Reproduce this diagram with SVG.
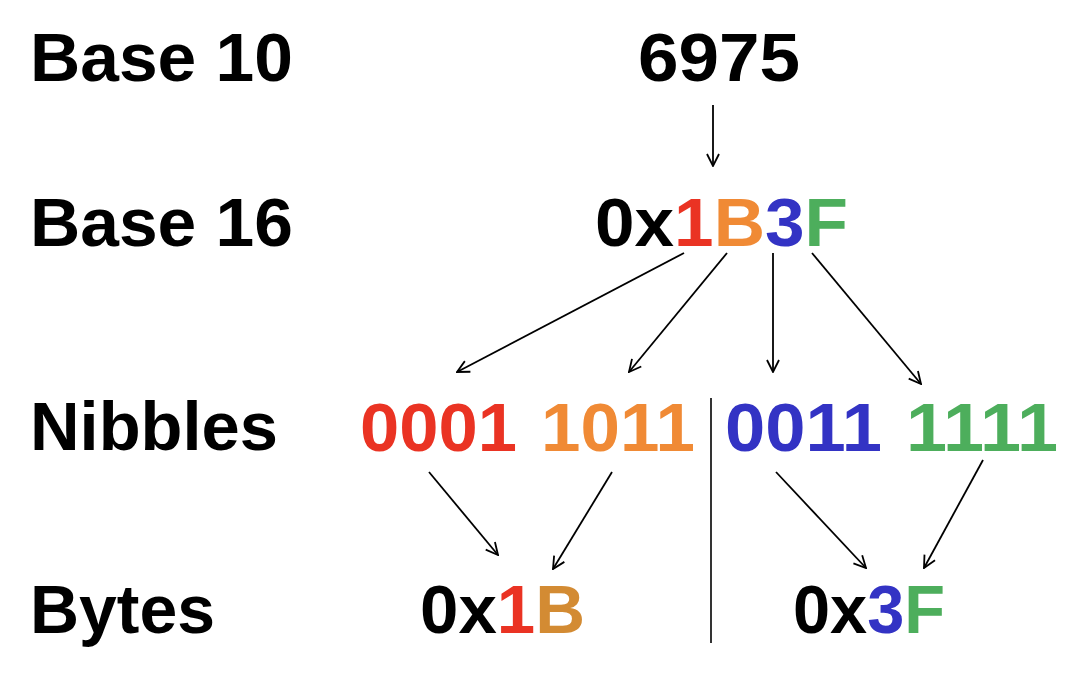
<svg xmlns="http://www.w3.org/2000/svg" width="1080" height="678" viewBox="0 0 1080 678">
<defs>
<style>
text{font-family:"Liberation Sans",Arial,sans-serif;font-weight:bold;font-size:69px;fill:#000}
.r{fill:#EA3323}.o{fill:#F08A35}.b{fill:#3333C4}.g{fill:#4DAE5C}.gold{fill:#D38B33}
.c{stroke:#000;stroke-width:1.8;fill:none;marker-end:url(#ah)}
</style>
<marker id="ah" viewBox="0 0 14 14" refX="13" refY="7" markerWidth="14" markerHeight="14" markerUnits="userSpaceOnUse" orient="auto">
<path d="M1,1 L13,7 L1,13" fill="none" stroke="#000" stroke-width="1.8"/>
</marker>
</defs>
<rect width="1080" height="678" fill="#fff"/>
<g id="labels">
<text x="30" y="81" textLength="263" lengthAdjust="spacingAndGlyphs">Base 10</text>
<text x="30" y="246" textLength="263" lengthAdjust="spacingAndGlyphs">Base 16</text>
<text x="30" y="450" textLength="248" lengthAdjust="spacingAndGlyphs">Nibbles</text>
<text x="30" y="633" textLength="185" lengthAdjust="spacingAndGlyphs">Bytes</text>
</g>
<g id="base10"><text x="638" y="81" textLength="162" lengthAdjust="spacingAndGlyphs">6975</text></g>
<g id="base16"><text x="595" y="246" textLength="253" lengthAdjust="spacingAndGlyphs">0x<tspan class="r">1</tspan><tspan class="o">B</tspan><tspan class="b">3</tspan><tspan class="g">F</tspan></text></g>
<g id="nib1"><text class="r" x="360" y="451" textLength="157" lengthAdjust="spacingAndGlyphs">0001</text></g>
<g id="nib2"><text class="o" x="541" y="451" textLength="154" lengthAdjust="spacingAndGlyphs">1011</text></g>
<g id="nib3"><text class="b" x="725" y="451" textLength="157" lengthAdjust="spacingAndGlyphs">0011</text></g>
<g id="nib4"><text class="g" x="906" y="451" textLength="152" lengthAdjust="spacingAndGlyphs">1111</text></g>
<g id="byte1"><text x="420" y="633" textLength="165" lengthAdjust="spacingAndGlyphs">0x<tspan class="r">1</tspan><tspan class="gold">B</tspan></text></g>
<g id="byte2"><text x="793" y="633" textLength="152" lengthAdjust="spacingAndGlyphs">0x<tspan class="b">3</tspan><tspan class="g">F</tspan></text></g>
<g id="connectors">
<line x1="711" y1="398" x2="711" y2="643" stroke="#000" stroke-width="1.6"/>
<line class="c" x1="713" y1="105" x2="713" y2="166"/>
<line class="c" x1="684" y1="253" x2="457" y2="372"/>
<line class="c" x1="727" y1="253" x2="629" y2="372"/>
<line class="c" x1="773" y1="253" x2="773" y2="372"/>
<line class="c" x1="812" y1="253" x2="921" y2="384"/>
<line class="c" x1="429" y1="472" x2="498" y2="555"/>
<line class="c" x1="612" y1="472" x2="553" y2="569"/>
<line class="c" x1="776" y1="472" x2="866" y2="568"/>
<line class="c" x1="983" y1="460" x2="924" y2="568"/>
</g>
</svg>
